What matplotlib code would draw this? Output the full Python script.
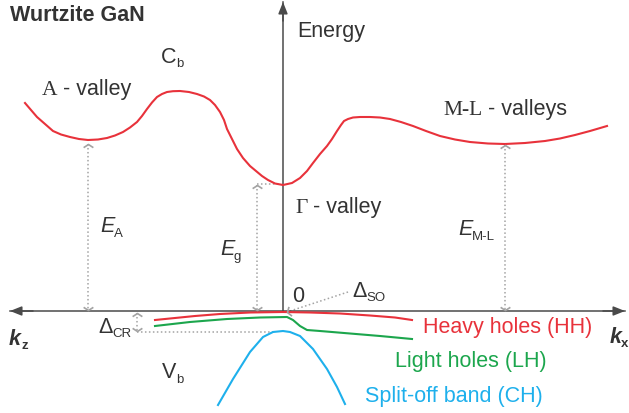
import numpy as np
import matplotlib
matplotlib.use("Agg")
import matplotlib.pyplot as plt
from matplotlib.path import Path
from matplotlib.markers import MarkerStyle
from matplotlib.transforms import Affine2D

# ---- band data (k: wave-vector, arbitrary units; E: energy, arbitrary units, VB top = 0)
cond_k = [-258, -252, -246, -238, -230, -222, -213, -204, -195, -185, -176, -168,
          -160, -153, -146, -141, -136, -131, -126, -121, -116, -110, -103, -94,
          -86, -79, -73, -68, -63, -59, -56, -51, -46, -40, -33, -27, -21, -15,
          -8, 0, 9, 17, 24, 30, 37, 44, 49, 54, 58, 61, 65, 70, 77, 87, 97, 107,
          118, 130, 143, 157, 172, 187, 205, 222, 242, 262, 277, 292, 307, 324]
cond_E = [208, 201, 194, 187, 180, 176.5, 174, 172, 171, 171.5, 173, 175.5,
          179, 183.5, 189, 195, 202, 208.5, 214, 217, 219, 219.8, 220, 219,
          217, 214.5, 211, 206, 199, 191, 182, 172, 162, 153, 145, 140, 135, 131,
          127.5, 126, 128, 133, 140, 148, 157, 165, 172, 180, 186, 190, 192, 193.5,
          194, 194, 193.5, 192, 189, 185, 180, 175, 171.5, 169, 167.5, 167, 168,
          170, 172.5, 176, 180, 185]

hh_k = [-128, -108, -88, -63, -33, 0, 27, 57, 87, 112, 129]
hh_E = [-9, -7, -5, -3, -1.5, -1, -1.5, -2.5, -4.5, -6.5, -9]

lh_k = [-128, -93, -56, -23, 4, 10, 17, 24, 37, 67, 97, 129]
lh_E = [-15, -11, -8, -6.5, -6, -9, -15, -19, -20, -22.5, -25, -28]

so_k = [-65, -50, -33, -20, -10, 0, 7, 17, 30, 44, 54, 62]
so_E = [-94, -68, -41, -26, -21, -20, -21, -25, -38, -58, -76, -93]

# characteristic levels
E_gamma = 127     # bottom of the Gamma valley
E_A = 169         # bottom of the A valley
E_ML = 167        # bottom of the M-L valleys
E_CR = -20        # top of the split-off band
k_A, k_G, k_ML, k_CR = -195, -26, 222, -146

RED = "#e8323b"
GREEN = "#1ca64d"
BLUE = "#1eb0ec"
AXIS = "#4a4a4a"
DOT = "#a3a3a3"
TXT = "#333333"

SANS = "Liberation Sans"
SERIF = "Liberation Serif"
FS = 15.5
SUB = 9.5

fig = plt.figure(figsize=(6.29, 4.14), dpi=100)
ax = fig.add_axes([0, 0, 1, 1])
ax.set_xlim(-283, 346)
ax.set_ylim(-102, 312)
ax.axis("off")

# ---- axes of the diagram
head = dict(arrowstyle="-|>,head_length=0.5,head_width=0.2", color=AXIS,
            lw=1.1, shrinkA=0, shrinkB=0, mutation_scale=14)
ax.plot([-273, 342], [0, 0], color=AXIS, lw=1.1, zorder=2)
ax.plot([0, 0], [0, 309], color=AXIS, lw=1.1, zorder=2)
ax.annotate("", xy=(-273, 0), xytext=(-250, 0), arrowprops=head)
ax.annotate("", xy=(342, 0), xytext=(320, 0), arrowprops=head)
ax.annotate("", xy=(0, 309), xytext=(0, 290), arrowprops=head)

# ---- bands
ax.plot(cond_k, cond_E, color=RED, lw=1.5, zorder=3, solid_joinstyle="round")
ax.plot(hh_k, hh_E, color=RED, lw=1.5, zorder=3)
ax.plot(lh_k, lh_E, color=GREEN, lw=1.5, zorder=3)
ax.plot(so_k, so_E, color=BLUE, lw=1.5, zorder=3)

# ---- dotted energy-gap arrows with open chevron heads
DOTS = (0, (1, 1.6))

def chevron(angle):
    p = Path([(-1, -0.65), (0, 0), (1, -0.65)],
             [Path.MOVETO, Path.LINETO, Path.LINETO])
    return MarkerStyle(p, fillstyle="none", transform=Affine2D().rotate_deg(angle))

def head_at(x, y, angle):
    ax.plot([x], [y], marker=chevron(angle), ms=7, mec=DOT, mfc="none",
            mew=1.2, ls="none", zorder=4)

def gap_arrow(k, e_top, e_bot):
    ax.plot([k, k], [e_top, e_bot], color=DOT, lw=1.1, ls=DOTS, zorder=1)
    head_at(k, e_top, 0)
    head_at(k, e_bot, 180)

gap_arrow(k_A, E_A - 2, 1)
gap_arrow(k_G, E_gamma - 1, 1)
gap_arrow(k_ML, E_ML - 1, 1)
gap_arrow(k_CR, -2, E_CR)
ax.plot([k_G, -3], [E_gamma, E_gamma], color=DOT, lw=1.1, ls=DOTS, zorder=1)
ax.plot([k_CR, -8], [E_CR - 1, E_CR - 1], color=DOT, lw=1.1, ls=DOTS, zorder=1)

# spin-orbit pointer
so_from = (65, 19)
so_to = (4, -1)
ax.plot([so_from[0], so_to[0]], [so_from[1], so_to[1]], color=DOT, lw=1.1,
        ls=DOTS, zorder=1)
ang = np.degrees(np.arctan2(so_to[1] - so_from[1], so_to[0] - so_from[0])) - 90
head_at(so_to[0], so_to[1], ang)

# ---- labels
def t(x, y, s, size=FS, family=SANS, color=TXT, **kw):
    ax.text(x, y, s, fontsize=size, family=family, color=color,
            ha=kw.pop("ha", "left"), va="baseline", **kw)

t(-273, 291, "Wurtzite GaN", weight="bold")
t(14, 275, "Energy")
t(-122, 249, "C")
t(-107, 245, "b", size=SUB)
t(-241, 217, "A", family=SERIF)
t(-220, 217, "- valley")
t(12, 99, "Γ", family=SERIF)
t(30, 99, "- valley")
t(160, 197, "M-L", family=SERIF)
t(205, 197, "- valleys")

t(-183, 80, "E", style="italic")
t(-169, 75, "A", size=SUB)
t(-63, 57, "E", style="italic")
t(-49, 52, "g", size=SUB)
t(175, 77, "E", style="italic")
t(189, 72, "M-L", size=SUB)

t(9, 10, "0")
t(69, 15, "Δ")
t(83, 11, "SO", size=SUB)
t(-185, -21, "Δ")
t(-171, -25, "CR", size=SUB)

t(-274, -33, "k", weight="bold", style="italic")
t(-261, -37, "z", size=SUB, weight="bold")
t(327, -31, "k", weight="bold", style="italic")
t(338, -35, "x", size=SUB, weight="bold")

t(-121, -66, "V")
t(-107, -71, "b", size=SUB)

t(140, -21, "Heavy holes (HH)", color=RED)
t(264, -55, "Light holes (LH)", color=GREEN, ha="right")
t(260, -90, "Split-off band (CH)", color=BLUE, ha="right")

fig.savefig("out.png", dpi=100)
